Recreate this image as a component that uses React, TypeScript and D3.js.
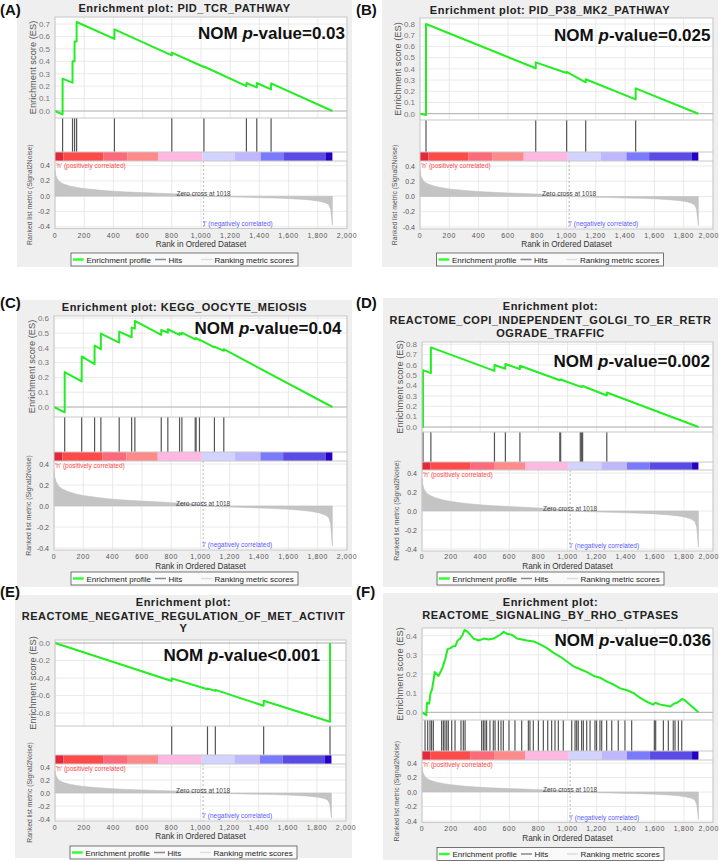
import React from 'react';
import * as d3 from 'd3';

const N_GENES = 1900;
const ZERO_CROSS = 1018;
const rankTicks = [0, 200, 400, 600, 800, 1000, 1200, 1400, 1600, 1800, 2000];
const metricTicks = [0.4, 0.2, 0, -0.2, -0.4];

// ranked list metric (Signal2Noise), same ranked list in every panel
const metricRanks = [0, 5, 15, 30, 60, 100, 150, 200, 300, 400, 500, 600, 700, 800, 900, 1000, 1018, 1100, 1200, 1300, 1400, 1500, 1600, 1700, 1760, 1810, 1850, 1875, 1888, 1900];
const metricValues = [0.34, 0.28, 0.23, 0.19, 0.16, 0.135, 0.115, 0.1, 0.08, 0.065, 0.055, 0.047, 0.04, 0.032, 0.024, 0.012, 0, -0.006, -0.01, -0.014, -0.019, -0.024, -0.031, -0.042, -0.052, -0.066, -0.085, -0.11, -0.17, -0.38];

// heat bar under the hits
const barEdges = [0, 57, 331, 495, 708, 1009, 1233, 1409, 1564, 1856, 1900];
const barColors = ['#e4283a', '#ff4a4a', '#ff6a7a', '#ff8a8a', '#ffb8e2', '#d2d4ff', '#bfb8ff', '#7a7aff', '#5a4ae6', '#2600c2'];

// A: PID_TCR_PATHWAY
const hitsA = [52, 120, 134, 148, 407, 800, 1020, 1311, 1382, 1480];
const esA = [[0, 0], [52, -0.027], [52, 0.26], [120, 0.228], [120, 0.4], [134, 0.4], [134, 0.56], [148, 0.56], [148, 0.716], [407, 0.58], [407, 0.657], [800, 0.448], [800, 0.47], [1020, 0.354], [1020, 0.358], [1311, 0.2], [1311, 0.225], [1382, 0.19], [1382, 0.225], [1480, 0.174], [1480, 0.222], [1900, 0]];

// B: PID_P38_MK2_PATHWAY
const hitsB = [41, 790, 1001, 1131, 1472];
const esB = [[0, 0], [41, -0.012], [41, 0.8], [790, 0.405], [790, 0.458], [1001, 0.363], [1001, 0.372], [1131, 0.28], [1131, 0.307], [1472, 0.128], [1472, 0.226], [1900, 0]];

// C: KEGG_OOCYTE_MEIOSIS
const hitsC = [73, 189, 277, 320, 445, 530, 552, 732, 777, 857, 873, 964, 970, 993, 1095, 1159];
const esC = [[0, 0], [73, -0.036], [73, 0.236], [189, 0.173], [189, 0.342], [277, 0.29], [277, 0.416], [320, 0.391], [320, 0.497], [445, 0.436], [445, 0.51], [530, 0.472], [530, 0.537], [552, 0.53], [552, 0.582], [732, 0.488], [732, 0.521], [777, 0.503], [777, 0.526], [857, 0.488], [857, 0.499], [873, 0.492], [873, 0.503], [964, 0.458], [964, 0.465], [970, 0.462], [970, 0.467], [993, 0.452], [993, 0.456], [1095, 0.404], [1095, 0.409], [1159, 0.38], [1159, 0.391], [1900, 0]];

// D: REACTOME_COPI_INDEPENDENT_GOLGI_TO_ER_RETROGRADE_TRAFFIC
const hitsD = [7, 61, 498, 573, 673, 947, 953, 1088, 1097, 1104, 1270];
const esD = [[0, 0], [7, 0], [7, 0.55], [61, 0.521], [61, 0.77], [498, 0.543], [498, 0.6], [573, 0.563], [573, 0.61], [673, 0.56], [673, 0.592], [947, 0.452], [947, 0.458], [953, 0.455], [953, 0.46], [1088, 0.39], [1088, 0.393], [1097, 0.389], [1097, 0.392], [1104, 0.389], [1104, 0.397], [1270, 0.305], [1270, 0.334], [1900, 0]];

// E: REACTOME_NEGATIVE_REGULATION_OF_MET_ACTIVITY
const hitsE = [802, 1048, 1102, 1434, 1890];
const esE = [[0, 0], [802, -0.434], [802, -0.404], [1048, -0.528], [1048, -0.52], [1102, -0.547], [1102, -0.536], [1434, -0.717], [1434, -0.66], [1890, -0.9], [1890, 0]];

// F: REACTOME_SIGNALING_BY_RHO_GTPASES
const hitsF = [21, 39, 55, 66, 78, 135, 147, 158, 170, 181, 204, 227, 268, 284, 296, 410, 422, 433, 444, 467, 490, 502, 525, 543, 559, 598, 639, 685, 731, 742, 765, 800, 834, 864, 891, 914, 937, 971, 1029, 1052, 1063, 1074, 1097, 1109, 1132, 1155, 1189, 1200, 1223, 1235, 1269, 1304, 1349, 1395, 1441, 1597, 1606, 1659, 1693, 1727, 1739, 1762, 1785];
const esF = [[0, 0], [30, -0.015], [34, 0.05], [50, 0.045], [57, 0.095], [69, 0.12], [80, 0.17], [87, 0.21], [114, 0.19], [130, 0.215], [144, 0.24], [160, 0.28], [176, 0.33], [195, 0.335], [213, 0.345], [229, 0.345], [245, 0.375], [263, 0.385], [279, 0.405], [293, 0.43], [314, 0.42], [355, 0.385], [389, 0.375], [424, 0.385], [458, 0.38], [492, 0.385], [515, 0.395], [538, 0.405], [561, 0.42], [584, 0.41], [618, 0.405], [653, 0.385], [687, 0.38], [722, 0.375], [767, 0.37], [813, 0.355], [859, 0.335], [905, 0.31], [951, 0.29], [996, 0.265], [1042, 0.24], [1088, 0.225], [1134, 0.21], [1180, 0.19], [1226, 0.18], [1271, 0.16], [1317, 0.145], [1363, 0.125], [1409, 0.115], [1455, 0.1], [1500, 0.075], [1546, 0.055], [1588, 0.04], [1604, 0.05], [1638, 0.04], [1672, 0.035], [1707, 0.03], [1730, 0.045], [1752, 0.05], [1771, 0.06], [1791, 0.07], [1810, 0.06], [1900, 0]];

const panels = [
  {
    id: 'A', label: '(A)', labelX: 0, labelY: 15, bg: [17, 0, 352, 267], left: 55, right: 347,
    titles: ['Enrichment plot: PID_TCR_PATHWAY'], titleY: [12],
    esTop: 17, esBottom: 118, es0Y: 111, esRef: 0.7, esRefY: 24, esTicks: [0, 0.1, 0.2, 0.3, 0.4, 0.5, 0.6, 0.7],
    hitsBottom: 152, barBottom: 161, rankHiY: 165.7, rankLoY: 226.7, rankBottom: 228.5,
    xTickY: 237.5, xTitleY: 247, legendY: 253, nom: '=0.03', nomRight: 345, nomY: 39, hits: hitsA, es: esA,
  },
  {
    id: 'B', label: '(B)', labelX: 356, labelY: 15, bg: [382, 0, 718, 267], left: 420, right: 713,
    titles: ['Enrichment plot: PID_P38_MK2_PATHWAY'], titleY: [13.5],
    esTop: 18, esBottom: 120, es0Y: 113.7, esRef: 0.8, esRefY: 24, esTicks: [0, 0.1, 0.2, 0.3, 0.4, 0.5, 0.6, 0.7, 0.8],
    hitsBottom: 152, barBottom: 161, rankHiY: 166, rankLoY: 227, rankBottom: 229,
    xTickY: 238, xTitleY: 247, legendY: 253, nom: '=0.025', nomRight: 710.5, nomY: 40.5, hits: hitsB, es: esB,
  },
  {
    id: 'C', label: '(C)', labelX: 0, labelY: 307.5, bg: [17, 300, 352, 587], left: 54, right: 347,
    titles: ['Enrichment plot: KEGG_OOCYTE_MEIOSIS'], titleY: [311],
    esTop: 316, esBottom: 417, es0Y: 407, esRef: 0.6, esRefY: 318.3, esTicks: [0, 0.1, 0.2, 0.3, 0.4, 0.5, 0.6],
    hitsBottom: 452, barBottom: 461, rankHiY: 464, rankLoY: 548, rankBottom: 550,
    xTickY: 559, xTitleY: 568.5, legendY: 572, nom: '=0.04', nomRight: 341.5, nomY: 334, hits: hitsC, es: esC,
  },
  {
    id: 'D', label: '(D)', labelX: 356, labelY: 308, bg: [383, 298, 718, 587], left: 422, right: 713,
    titles: ['Enrichment plot:', 'REACTOME_COPI_INDEPENDENT_GOLGI_TO_ER_RETR', 'OGRADE_TRAFFIC'], titleY: [309.5, 324, 336.5],
    esTop: 342, esBottom: 432, es0Y: 427, esRef: 0.8, esRefY: 344.3, esTicks: [0, 0.1, 0.2, 0.3, 0.4, 0.5, 0.6, 0.7, 0.8],
    hitsBottom: 462, barBottom: 470, rankHiY: 473, rankLoY: 549, rankBottom: 551,
    xTickY: 559, xTitleY: 568.5, legendY: 572, nom: '=0.002', nomRight: 710, nomY: 367, hits: hitsD, es: esD,
  },
  {
    id: 'E', label: '(E)', labelX: 0, labelY: 596.5, bg: [15, 595, 352, 858], left: 55, right: 346,
    titles: ['Enrichment plot:', 'REACTOME_NEGATIVE_REGULATION_OF_MET_ACTIVIT', 'Y'], titleY: [605.5, 620, 631.5],
    esTop: 640, esBottom: 726, es0Y: 643, esRef: -0.8, esRefY: 713, esTicks: [0, -0.2, -0.4, -0.6, -0.8],
    hitsBottom: 755, barBottom: 764, rankHiY: 767, rankLoY: 819, rankBottom: 821,
    xTickY: 830, xTitleY: 839, legendY: 846, nom: '<0.001', nomRight: 320, nomY: 661, hits: hitsE, es: esE,
  },
  {
    id: 'F', label: '(F)', labelX: 356, labelY: 596.5, bg: [383, 593, 718, 860], left: 422, right: 713,
    titles: ['Enrichment plot:', 'REACTOME_SIGNALING_BY_RHO_GTPASES'], titleY: [605.5, 619],
    esTop: 628, esBottom: 720, es0Y: 712.3, esRef: 0.4, esRefY: 635.7, esTicks: [0, 0.1, 0.2, 0.3, 0.4],
    hitsBottom: 751, barBottom: 760, rankHiY: 763, rankLoY: 821, rankBottom: 822.5,
    xTickY: 831, xTitleY: 841, legendY: 847.5, nom: '=0.036', nomRight: 711, nomY: 645.5, hits: hitsF, es: esF,
  },
];

const FONT = 'Liberation Sans, Arial, sans-serif';
const fmt1 = (v: number) => (Math.abs(v) < 1e-9 ? 0 : v).toFixed(1);
const fmtRank = d3.format(',');

function Panel({ p }: { p: any }) {
  const x = d3.scaleLinear().domain([0, 2000]).range([p.left, p.right]);
  const yEs = d3.scaleLinear().domain([0, p.esRef]).range([p.es0Y, p.esRefY]);
  const yRank = d3.scaleLinear().domain([-0.4, 0.4]).range([p.rankLoY, p.rankHiY]);
  const esPath = d3.line<number[]>().x(d => x(d[0])).y(d => yEs(d[1]))(p.es) || '';
  const metricPath = d3.area<number>()
    .x((_, i) => x(metricRanks[i]))
    .y0(yRank(0))
    .y1(d => yRank(d))(metricValues) || '';
  const [bx0, by0, bx1, by1] = p.bg;
  const cx = (bx0 + bx1) / 2;
  const w = p.right - p.left;
  const lx = cx - 113.5;
  const ly = p.legendY;
  const grid = '#e4e4e4';
  const frame = '#c8c8c8';

  return (
    <g>
      <rect x={bx0} y={by0} width={bx1 - bx0} height={by1 - by0} fill="#efefef" />
      <text x={p.labelX} y={p.labelY} fontSize={15} fontWeight="bold" fontFamily={FONT} fill="#111">{p.label}</text>
      {p.titles.map((t: string, i: number) => (
        <text key={i} x={cx} y={p.titleY[i]} textAnchor="middle" fontSize={11} fontWeight="bold"
          letterSpacing={0.5} fontFamily={FONT} fill="#222">{t}</text>
      ))}

      {/* enrichment score plot */}
      <rect x={p.left} y={p.esTop} width={w} height={p.rankBottom - p.esTop} fill="#fff" />
      {rankTicks.map(t => (
        <line key={t} x1={x(t)} x2={x(t)} y1={p.esTop} y2={p.esBottom} stroke={grid} strokeWidth={0.8} />
      ))}
      {p.esTicks.map((t: number) => (
        <g key={t}>
          <line x1={p.left} x2={p.right} y1={yEs(t)} y2={yEs(t)} stroke={t === 0 ? '#aaa' : grid} strokeWidth={t === 0 ? 1 : 0.8} />
          <text x={p.left - 5} y={yEs(t) + 2.8} textAnchor="end" fontSize={8} fontFamily={FONT} fill="#777">{fmt1(t)}</text>
        </g>
      ))}
      <path d={esPath} fill="none" stroke="#22ee22" strokeWidth={2} strokeLinejoin="round" />

      {/* hits */}
      {p.hits.map((h: number, i: number) => (
        <line key={i} x1={x(h)} x2={x(h)} y1={p.esBottom} y2={p.hitsBottom} stroke="#555" strokeWidth={1.2} />
      ))}

      {/* heat bar */}
      {barColors.map((c, i) => (
        <rect key={i} x={x(barEdges[i])} y={p.hitsBottom} width={x(barEdges[i + 1]) - x(barEdges[i])}
          height={p.barBottom - p.hitsBottom} fill={c} />
      ))}

      {/* ranked list metric */}
      {rankTicks.map(t => (
        <line key={t} x1={x(t)} x2={x(t)} y1={p.barBottom} y2={p.rankBottom} stroke={grid} strokeWidth={0.8} />
      ))}
      {metricTicks.map(t => (
        <g key={t}>
          <line x1={p.left} x2={p.right} y1={yRank(t)} y2={yRank(t)} stroke={grid} strokeWidth={0.8} />
          <text x={p.left - 5} y={yRank(t) + 2.5} textAnchor="end" fontSize={7} fontFamily={FONT} fill="#555">{fmt1(t)}</text>
        </g>
      ))}
      <path d={metricPath} fill="#c4c4c4" stroke="#bdbdbd" strokeWidth={0.5} />
      <line x1={x(ZERO_CROSS)} x2={x(ZERO_CROSS)} y1={p.barBottom} y2={p.rankBottom} stroke="#aaa" strokeWidth={0.8} strokeDasharray="2,2" />
      <text x={x(ZERO_CROSS)} y={yRank(0) - 0.5} textAnchor="middle" fontSize={6.5} fontFamily={FONT} fill="#444">Zero cross at {ZERO_CROSS}</text>
      <text x={p.left + 1} y={p.barBottom + 6.5} fontSize={6.5} fontFamily={FONT} fill="#ff4a4a">'h' (positively correlated)</text>
      <text x={x(ZERO_CROSS) - 1} y={p.rankLoY - 1} fontSize={6.5} fontFamily={FONT} fill="#5a5aff">'l' (negatively correlated)</text>

      {/* frames */}
      <rect x={p.left} y={p.esTop} width={w} height={p.rankBottom - p.esTop} fill="none" stroke={frame} strokeWidth={1} />
      {[p.esBottom, p.hitsBottom, p.barBottom].map((yy: number) => (
        <line key={yy} x1={p.left} x2={p.right} y1={yy} y2={yy} stroke={frame} strokeWidth={1} />
      ))}

      {/* x axis */}
      {rankTicks.map(t => {
        const atEdge = x(t) + 10 > 719;
        return (
          <text key={t} x={atEdge ? 719 : x(t)} y={p.xTickY} textAnchor={atEdge ? 'end' : 'middle'} fontSize={7}
            letterSpacing={0.6} fontFamily={FONT} fill="#555">{fmtRank(t)}</text>
        );
      })}

      <text x={(p.left + p.right) / 2} y={p.xTitleY} textAnchor="middle" fontSize={8.2} fontFamily={FONT} fill="#333">Rank in Ordered Dataset</text>
      <text transform={`translate(${p.left - 19},${(p.esTop + p.esBottom) / 2}) rotate(-90)`} textAnchor="middle"
        fontSize={9.3} fontFamily={FONT} fill="#555">Enrichment score (ES)</text>
      <text transform={`translate(${p.left - 23},${(p.barBottom + p.rankBottom) / 2}) rotate(-90)`} textAnchor="middle"
        fontSize={6.8} fontFamily={FONT} fill="#555">Ranked list metric (Signal2Noise)</text>

      <text x={p.nomRight} y={p.nomY} textAnchor="end" fontSize={17} fontWeight="bold" fontFamily={FONT} fill="#111">
        NOM <tspan fontStyle="italic">p</tspan>-value{p.nom}
      </text>

      {/* legend */}
      <rect x={lx} y={ly} width={227} height={13} fill="#fafafa" stroke="#555" strokeWidth={0.8} />
      <line x1={lx + 2} x2={lx + 12.7} y1={ly + 6.5} y2={ly + 6.5} stroke="#33ff33" strokeWidth={2.5} />
      <text x={lx + 15.5} y={ly + 9.6} fontSize={8} fontFamily={FONT} fill="#222">Enrichment profile</text>
      <line x1={lx + 84} x2={lx + 95} y1={ly + 6.5} y2={ly + 6.5} stroke="#888" strokeWidth={1.5} />
      <text x={lx + 97.5} y={ly + 9.6} fontSize={8} fontFamily={FONT} fill="#222">Hits</text>
      <line x1={lx + 130} x2={lx + 141} y1={ly + 6.5} y2={ly + 6.5} stroke="#ddd" strokeWidth={1.5} />
      <text x={lx + 143.5} y={ly + 9.6} fontSize={8} fontFamily={FONT} fill="#222">Ranking metric scores</text>
    </g>
  );
}

export default function App() {
  return (
    <svg width={720} height={862} style={{ position: 'absolute', left: 0, top: 0, background: '#fff' }}>
      {panels.map(p => <Panel key={p.id} p={p} />)}
    </svg>
  );
}
